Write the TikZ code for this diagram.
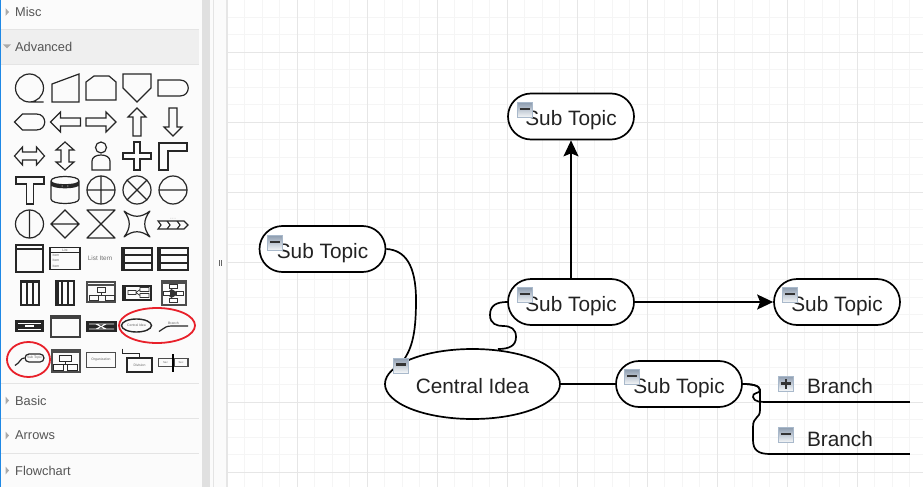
\documentclass[tikz,border=0pt]{standalone}
\usepackage{fontspec}
\setmainfont{Liberation Sans}
\usetikzlibrary{arrows.meta,shapes.geometric,shapes.misc}
\definecolor{panelBg}{HTML}{FBFBFB}
\definecolor{panelRow}{HTML}{EFEFEF}
\definecolor{panelLine}{HTML}{E4E4E4}
\definecolor{scrollBar}{HTML}{E0E0E0}
\definecolor{gridMinor}{HTML}{F5F5F5}
\definecolor{gridMajor}{HTML}{E6E6E6}
\definecolor{titleGray}{HTML}{555555}
\definecolor{tickGray}{HTML}{AAAAAA}
\definecolor{ringRed}{HTML}{E8202A}
\definecolor{paneBlue}{HTML}{1E88E5}
\definecolor{inkDark}{HTML}{222222}
\definecolor{toggleEdge}{HTML}{A9B9CB}
\definecolor{toggleTop}{HTML}{8E9DB0}
\begin{document}
\begin{tikzpicture}[x=1pt,y=-1pt]

	\tikzstyle{subtopic}=[draw=black, line width=1.7pt, fill=white, rounded rectangle, minimum width=126pt, minimum height=46pt, inner sep=0pt, text=inkDark, text height=24pt, text depth=5.4pt, font=\fontsize{20.8}{25}\selectfont]
	\tikzstyle{central}=[draw=black, line width=1.7pt, fill=white, ellipse, minimum width=175pt, minimum height=70pt, inner sep=0pt, text=inkDark, text height=24.8pt, text depth=5.4pt, font=\fontsize{20.8}{25}\selectfont]
	\tikzstyle{branch}=[text=inkDark, inner sep=0pt, font=\fontsize{20.8}{25}\selectfont]
	\tikzstyle{toggle}=[draw=toggleEdge, line width=.8pt, top color=toggleTop, bottom color=white!90!toggleEdge, minimum size=15pt, inner sep=0pt]
	\tikzstyle{minus}=[path picture={\draw[line width=2.2pt,black!80] ([xshift=-5pt,yshift=1pt]path picture bounding box.center)--([xshift=5pt,yshift=1pt]path picture bounding box.center);}]
	\tikzstyle{plus}=[path picture={\draw[line width=2.2pt,black!80] ([xshift=-5pt]path picture bounding box.center)--([xshift=5pt]path picture bounding box.center) ([yshift=-5pt]path picture bounding box.center)--([yshift=5pt]path picture bounding box.center);}]
	\tikzstyle{link}=[line width=1.7pt, black]
	\tikzstyle{linkArrow}=[line width=1.7pt, black, -{Stealth[length=16pt,width=15pt,inset=3pt]}]
	\tikzstyle{panelTitle}=[anchor=west, inner sep=0pt, text=titleGray, font=\fontsize{12.8}{15}\selectfont]
	\tikzstyle{icon}=[draw=black!85, line width=1.2pt, line join=miter]
	\tikzstyle{fatIcon}=[draw=black!85, line width=2pt]
	\tikzstyle{thinLine}=[draw=black!80, line width=.7pt]
	\tikzstyle{tiny}=[inner sep=0pt, text=black!60, font=\fontsize{3.4}{4}\selectfont]
	\tikzstyle{ring}=[draw=ringRed, line width=1.8pt, ellipse, inner sep=0pt]

	\useasboundingbox (0,0) rectangle (923,487);
	\fill[white] (0,0) rectangle (923,487);

	% canvas grid
	\foreach \gx in {0,...,40} {\draw[gridMinor,line width=.8pt] (227+17.5*\gx,0)--(227+17.5*\gx,487);}
	\foreach \gy in {0,...,27} {\draw[gridMinor,line width=.8pt] (227,17+17.5*\gy)--(923,17+17.5*\gy);}
	\foreach \gx in {0,...,10} {\draw[gridMajor,line width=.8pt] (227+70*\gx,0)--(227+70*\gx,487);}
	\foreach \gy in {0,...,6} {\draw[gridMajor,line width=.8pt] (227,52+70*\gy)--(923,52+70*\gy);}

	% side panel
	\fill[panelBg] (0,0) rectangle (202,487);
	\fill[panelBg] (210,0) rectangle (226,487);
	\fill[scrollBar] (202,0) rectangle (210,487);
	\fill[panelRow] (1,30) rectangle (199,64);
	\fill[paneBlue] (0,0) rectangle (1.4,487);
	\draw[panelLine] (213.5,0)--(213.5,487);
	\draw[gridMajor,line width=1.4pt] (227,0)--(227,487);
	\foreach \ly in {29,64,383,418,453} {\draw[panelLine,line width=.8pt] (1,\ly)--(199,\ly);}

	\node[panelTitle] (misc) at (15,12) {Misc};
	\node[panelTitle] (advanced) at (15,46.5) {Advanced};
	\node[panelTitle] (basic) at (15,400.5) {Basic};
	\node[panelTitle] (arrows) at (15,435.5) {Arrows};
	\node[panelTitle] (flowchart) at (15,470.5) {Flowchart};
	\foreach \ty in {12,400.5,435.5,470.5} {\fill[tickGray] (5.5,\ty-4)--(9,\ty)--(5.5,\ty+4)--cycle;}
	\fill[tickGray] (3,44.5)--(11,44.5)--(7,48.5)--cycle;

	% row 1
	\draw[icon,shift={(29.5,88)}] (0,0) circle (14) (0,14)--(14,14);
	\draw[icon,shift={(65,88)}] (-13,-4)--(14,-14)--(14,14)--(-13,14)--cycle;
	\draw[icon,shift={(101,88)}] (-15,12)--(-15,-6)--(-7,-12)--(8,-12)--(15,-6)--(15,12)--cycle;
	\draw[icon,shift={(137,88)}] (-14,-14)--(14,-14)--(14,0)--(0,14)--(-14,0)--cycle;
	\draw[icon,shift={(173,88)}] (-15,-8)--(7,-8) .. controls (18,-8) and (18,8) .. (7,8)--(-15,8)--cycle;
	% row 2
	\draw[icon,shift={(29.5,122)}] (-15,0)--(-7,-8)--(7,-8) .. controls (18,-8) and (18,8) .. (7,8)--(-7,8)--cycle;
	\draw[icon,shift={(65.5,122)}] (-15,0)--(-5,-10)--(-5,-4)--(15,-4)--(15,4)--(-5,4)--(-5,10)--cycle;
	\draw[icon,shift={(101,122)}] (15,0)--(5,-10)--(5,-4)--(-15,-4)--(-15,4)--(5,4)--(5,10)--cycle;
	\draw[icon,shift={(137,122)}] (0,-14)--(9,-5)--(4,-5)--(4,14)--(-4,14)--(-4,-5)--(-9,-5)--cycle;
	\draw[icon,shift={(173,122)}] (0,14)--(9,5)--(4,5)--(4,-14)--(-4,-14)--(-4,5)--(-9,5)--cycle;
	% row 3
	\draw[icon,shift={(29.5,156)}] (-15,0)--(-7,-9)--(-7,-4)--(7,-4)--(7,-9)--(15,0)--(7,9)--(7,4)--(-7,4)--(-7,9)--cycle;
	\draw[icon,shift={(65,156)}] (0,-14)--(9,-6)--(4,-6)--(4,6)--(9,6)--(0,14)--(-9,6)--(-4,6)--(-4,-6)--(-9,-6)--cycle;
	\draw[icon,shift={(101,156)}] (0,-8.5) circle (5.5) (-9,14)--(-9,5) .. controls (-9,-3) and (9,-3) .. (9,5)--(9,14)--cycle;
	\draw[icon,shift={(137,156)}] (-3,-14)--(3,-14)--(3,-3)--(14,-3)--(14,3)--(3,3)--(3,14)--(-3,14)--(-3,3)--(-14,3)--(-14,-3)--(-3,-3)--cycle;
	\draw[icon,shift={(173,156)}] (-14,-13)--(14,-13)--(14,-5)--(-5,-5)--(-5,14)--(-14,14)--cycle;
	% row 4
	\draw[icon,shift={(30,190)}] (-14,-13)--(14,-13)--(14,-6)--(3.5,-6)--(3.5,14)--(-3.5,14)--(-3.5,-6)--(-14,-6)--cycle;
	\draw[icon,shift={(65,190)}] (-14,-9) .. controls (-14,-15) and (14,-15) .. (14,-9)--(14,9) .. controls (14,15) and (-14,15) .. (-14,9)--cycle (-14,-9) .. controls (-14,-4) and (14,-4) .. (14,-9) (-14,-7.5) .. controls (-14,-2.5) and (14,-2.5) .. (14,-7.5) (-14,-6) .. controls (-14,-1) and (14,-1) .. (14,-6);
	\draw[icon,shift={(101,190)}] (0,0) circle (14) (-14,0)--(14,0) (0,-14)--(0,14);
	\draw[icon,shift={(137,190)}] (0,0) circle (14) (-10,-10)--(10,10) (-10,10)--(10,-10);
	\draw[icon,shift={(173,190)}] (0,0) circle (14) (-14,0)--(14,0);
	% row 5
	\draw[icon,shift={(29.5,224)}] (0,0) circle (14) (0,-14)--(0,14);
	\draw[icon,shift={(65,224)}] (-14,0)--(0,-14)--(14,0)--(0,14)--cycle (-14,0)--(14,0);
	\draw[icon,line join=round,shift={(101,224)}] (-14,-14)--(14,-14)--(-14,14)--(14,14)--cycle;
	\draw[icon,line join=round,shift={(137,224)}] (-13,-13) .. controls (-4,-6) and (4,-6) .. (13,-13) .. controls (6,-4) and (6,4) .. (13,13) .. controls (4,6) and (-4,6) .. (-13,13) .. controls (-6,4) and (-6,-4) .. (-13,-13)--cycle;
	\draw[icon,line width=1.1pt,shift={(173,225)}] (-15,-4)--(-6,-4)--(-3,0)--(-6,4)--(-15,4)--(-12,0)--cycle (-6,-4)--(4,-4)--(7,0)--(4,4)--(-6,4) (4,-4)--(11,-4)--(15,0)--(11,4)--(4,4);
	\node[tiny] (chainTitle) at (173,219) {- - -};
	% row 6
	\draw[fatIcon,shift={(29.5,258.5)}] (-13.5,-13.5) rectangle (13.5,13.5);
	\draw[fatIcon,shift={(29.5,258.5)}] (-13.5,-9.5)--(13.5,-9.5);
	\draw[icon,shift={(65,258.5)}] (-15,-11) rectangle (15,11) (-15,-6)--(15,-6);
	\node[tiny] (listTitle) at (65,250) {List};
	\node[tiny] (listRowA) at (56,255) {Item};
	\node[tiny] (listRowB) at (56,260.5) {Item};
	\node[tiny] (listRowC) at (56,266) {Item};
	\node[inner sep=0pt,text=black!55,font=\fontsize{6.4}{8}\selectfont] (listItem) at (100,258) {List Item};
	\draw[fatIcon,shift={(137,258.5)}] (-15,-11) rectangle (15,11) (-15,-4)--(15,-4) (-15,4)--(15,4);
	\fill[black!85] (122,247.5) rectangle (125,269.5);
	\draw[fatIcon,shift={(173,258.5)}] (-15,-11) rectangle (15,11) (-15,-4)--(15,-4) (-15,4)--(15,4);
	\fill[black!85] (158,247.5) rectangle (161,269.5);
	% row 7
	\draw[fatIcon,shift={(29.5,292.5)}] (-9,-12) rectangle (9,12) (-3,-12)--(-3,12) (3,-12)--(3,12);
	\fill[black!85] (20.5,280.5) rectangle (38.5,283);
	\draw[fatIcon,shift={(65,292.5)}] (-9,-12) rectangle (9,12) (-3,-12)--(-3,12) (3,-12)--(3,12);
	\fill[black!85] (56,280.5) rectangle (58.5,304.5);
	\draw[fatIcon,draw=black!70,shift={(101,292)}] (-14,-10) rectangle (14,10) (-14,-7.5)--(14,-7.5);
	\draw[thinLine,shift={(101,292)}] (-4,-5) rectangle (4,0) (-12,3) rectangle (-3,8) (4,3) rectangle (13,8) (0,0)--(0,3) (-8,3)--(10,3);
	\draw[fatIcon,shift={(137,292.5)}] (-14,-7) rectangle (14,7);
	\fill[black!85] (123,285.5) rectangle (126,299.5);
	\draw[thinLine,shift={(137,292.5)}] (-9,-2) rectangle (-1,2) (3,-5) rectangle (12,-1) (3,1) rectangle (12,5) (-1,0)--(3,-3) (-1,0)--(3,3);
	\draw[fatIcon,draw=black!70,shift={(173.5,292.5)}] (-12,-12) rectangle (12,12) (-12,-9.5)--(12,-9.5);
	\draw[thinLine,fill=black!80,shift={(173.5,292.5)}] (-2,-3)--(5,1)--(-2,5)--(-7,1)--cycle;
	\draw[thinLine,fill=white,shift={(173.5,292.5)}] (-4,-8) rectangle (4,-4) (-10,-1) rectangle (-3,3) (3,-1) rectangle (10,3) (-4,6) rectangle (4,10);
	% row 8
	\fill[black!85] (15,320) rectangle (44,332);
	\draw[white,line width=.9pt] (18,323)--(41,323) (18,329)--(41,329);
	\draw[white,line width=1.2pt] (25,326)--(34,326);
	\draw[icon,draw=black!75,line width=1.5pt,shift={(65.5,326.5)}] (-14.5,-10.5) rectangle (14.5,10.5);
	\fill[black!75] (51,316) rectangle (80,319);
	\fill[black!85] (86,321) rectangle (117,332);
	\draw[white,line width=.9pt] (89,324)--(114,324) (89,329)--(114,329) (96,324)--(106,329) (96,329)--(106,324);
	\node[draw=black!85,line width=1.4pt,ellipse,minimum width=30pt,minimum height=13pt,inner sep=0pt,text=black!60,font=\fontsize{3.4}{4}\selectfont] (iconCentral) at (136.5,325.5) {Central Idea};
	\node[tiny] (iconBranch) at (173.5,323) {Branch};
	\coordinate (iconBranchA) at (159,331.5);
	\coordinate (iconBranchB) at (188,326);
	\draw[icon] (iconBranchA) .. controls (166,327) and (166,326) .. (172,326)--(iconBranchB);
	\node[ring,minimum width=76pt,minimum height=35pt] (ringA) at (157,325.5) {};
	% row 9
	\node[draw=black!85,line width=1.2pt,rounded rectangle,minimum width=19pt,minimum height=8pt,inner sep=0pt,text=black!60,font=\fontsize{3.4}{4}\selectfont] (iconTopic) at (34.5,358) {Sub Topic};
	\coordinate (iconTopicEnd) at (15,365.5);
	\draw[icon] (iconTopicEnd) .. controls (21,362) and (20,358) .. (iconTopic.west);
	\node[ring,minimum width=43pt,minimum height=35pt] (ringB) at (28.5,359.5) {};
	\draw[fatIcon,draw=black!70,shift={(65.5,360.5)}] (-14,-11) rectangle (14,11) (-14,-9)--(14,-9);
	\draw[icon,line width=.9pt,shift={(65.5,360.5)}] (-6,-5.5) rectangle (6,0.5) (-12,4) rectangle (-2,10) (2,4) rectangle (12,10) (0,.5)--(0,4) (-7,4)--(7,4);
	\node[draw=black!70,line width=1.2pt,minimum width=29pt,minimum height=15pt,inner sep=0pt,text=black!60,font=\fontsize{3.4}{4}\selectfont] (iconOrg) at (101,360) {Organization};
	\node[draw=black!85,line width=1.4pt,minimum width=25pt,minimum height=14pt,inner sep=0pt,text=black!60,font=\fontsize{3.4}{4}\selectfont] (iconDiv) at (139.5,365) {Division};
	\coordinate (iconDivEnd) at (122.5,348.5);
	\draw[icon] (iconDivEnd)--(122.5,353.5)--(iconDiv.north |- 0,353.5)--(iconDiv.north);
	\node[draw=black!70,line width=1.2pt,minimum width=14pt,minimum height=8.5pt,inner sep=0pt,text=black!60,font=\fontsize{2.8}{3}\selectfont] (iconSplitA) at (165.5,362.5) {Sec};
	\node[draw=black!70,line width=1.2pt,minimum width=14pt,minimum height=8.5pt,inner sep=0pt,text=black!60,font=\fontsize{2.8}{3}\selectfont] (iconSplitB) at (181,362.5) {Sec};
	\draw[line width=2pt,black] (173.3,354)--(173.3,372);

	% sash handle
	\draw[black!60,line width=.7pt] (219.5,260)--(219.5,266) (221.5,260)--(221.5,266);

	% mind map
	\coordinate (BA) at (770,402);
	\coordinate (BB) at (910,402);
	\coordinate (BC) at (770,454);
	\coordinate (BD) at (910,454);

	\node[subtopic] (T) at (571,116.5) {Sub Topic};
	\node[subtopic] (L) at (322.5,249) {Sub Topic};
	\node[subtopic] (M) at (571,302) {Sub Topic};
	\node[subtopic] (R) at (837,302) {Sub Topic};
	\node[subtopic] (D) at (679,384) {Sub Topic};
	\node[central] (C) at (472.5,384) {Central Idea};
	\node[branch] (E) at (840,386) {Branch};
	\node[branch] (F) at (840,439) {Branch};

	\draw[link] (BA)--(BB);
	\draw[link] (BC)--(BD);

	\draw[linkArrow] (M)--(T);
	\draw[linkArrow] (M)--(R);
	\draw[link] (C)--(D);
	\draw[link] (L.east) .. controls (405,250) and (416,265) .. (416,300) .. controls (416,335) and (412,352) .. (398,367);
	\draw[link] (M.west) .. controls (497,302) and (490,305) .. (490,315) .. controls (490,324) and (497,326) .. (503,326) .. controls (511,326) and (516,329) .. (516,337) .. controls (516,346) and (509,349) .. (498,349);
	\draw[link] (D.east) .. controls (750,384) and (760,385) .. (760,390) .. controls (760,394) and (752,392) .. (753,397) .. controls (754,402) and (760,402) .. (BA);
	\draw[link] (D.east) .. controls (750,384) and (760,385) .. (760,390)--(760,410) .. controls (760,419) and (753,416) .. (753,427)--(753,440) .. controls (753,450) and (758,454) .. (BC);

	\node[toggle,minus] (ML) at (275,243) {};
	\node[toggle,minus] (MT) at (524.5,110) {};
	\node[toggle,minus] (MM) at (524.5,295) {};
	\node[toggle,minus] (MR) at (790,295) {};
	\node[toggle,minus] (MC) at (401,365.5) {};
	\node[toggle,minus] (MD) at (632,377) {};
	\node[toggle,plus] (PE) at (786,383.5) {};
	\node[toggle,minus] (MF) at (786,435) {};

\end{tikzpicture}
\end{document}
